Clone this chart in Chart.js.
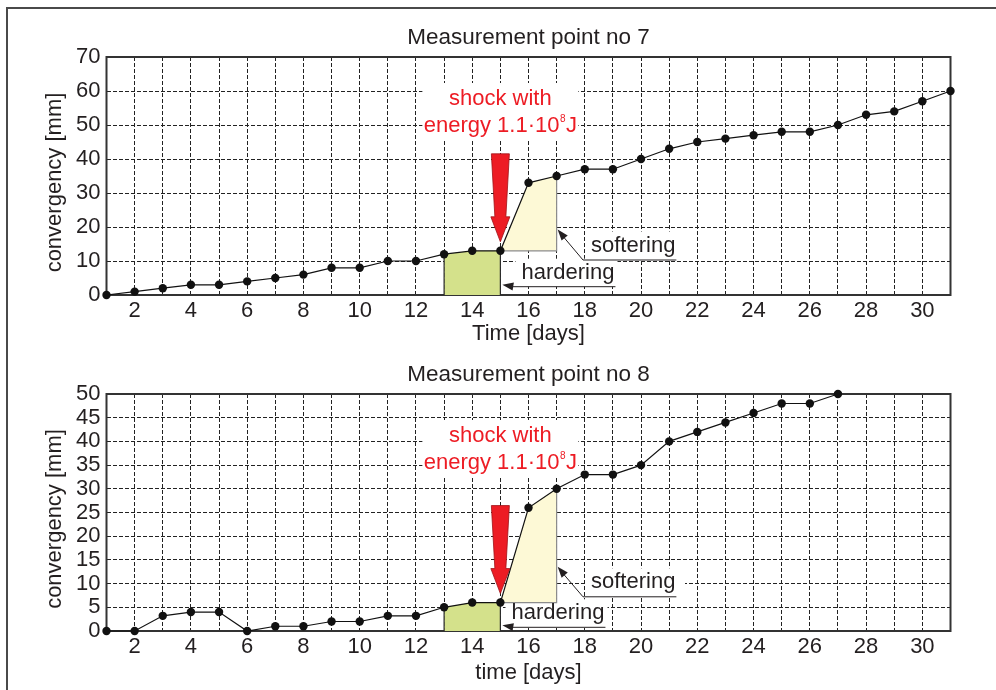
<!DOCTYPE html>
<html>
<head>
<meta charset="utf-8">
<script src="https://cdn.jsdelivr.net/npm/chart.js@4"></script>
<style>
  html, body { margin: 0; padding: 0; background: #fff; }
  #page { position: relative; width: 996px; height: 690px; overflow: hidden; }
  #frame { position: absolute; left: 6px; top: 7px; width: 1000px; height: 700px;
           border-left: 2px solid #4a4a4a; border-top: 2px solid #4a4a4a; }
  canvas { position: absolute; left: 0; }
  #chart7 { top: 0; }
  #chart8 { top: 345px; }
</style>
</head>
<body>
<div id="page">
  <div id="frame"></div>
  <canvas id="chart7" width="996" height="350"></canvas>
  <canvas id="chart8" width="996" height="345"></canvas>
</div>
<script>
// ── data ──
var days = [1, 2, 3, 4, 5, 6, 7, 8, 9, 10, 11, 12, 13, 14, 15, 16,
            17, 18, 19, 20, 21, 22, 23, 24, 25, 26, 27, 28, 29, 30, 31];
var point7 = [0, 1, 2, 3, 3, 4, 5, 6, 8, 8, 10, 10, 12, 13, 13, 33,
              35, 37, 37, 40, 43, 45, 46, 47, 48, 48, 50, 53, 54, 57, 60];
var point8 = [0, 0, 3.2, 4, 4, 0, 1, 1, 2, 2, 3.2, 3.2, 5, 6, 6, 26,
              30, 33, 33, 35, 40, 42, 44, 46, 48, 48, 50];
var xTickLabels = [2, 4, 6, 8, 10, 12, 14, 16, 18, 20, 22, 24, 26, 28, 30];
var yMax7 = 70, yStep7 = 10;
var yMax8 = 50, yStep8 = 5;

// shock event and the two marked zones
var shockDay = 15;
var hardStart = 13;
var softEnd = 17;

var FONT = "'Liberation Sans', Arial, Helvetica, sans-serif";
var INK = '#231f20';
var RED = '#ed1c24';
Chart.defaults.font.family = FONT;

// ── annotations: title, label boxes, zone outlines, shock arrow, labels ──
var annotPlugin = {
  id: 'annot',
  beforeDatasetsDraw: function (chart, args, o) {
    var ctx = chart.ctx, a = chart.chartArea;
    var cx = chart.scales.x.getPixelForValue(shockDay);
    ctx.save();
    ctx.fillStyle = '#fff';
    ctx.fillRect(cx - 78, a.top + 26, 156, 58);
    ctx.fillRect(o.softX - 6, a.top + o.softY - 14, 100, 28);
    ctx.fillRect(o.hardX - 6, a.top + o.hardY - 14, 102, 28);
    ctx.strokeStyle = '#333';
    ctx.lineWidth = 2;
    ctx.strokeRect(a.left, a.top, a.right - a.left, a.bottom - a.top);
    ctx.restore();
  },
  afterDatasetDraw: function (chart, args) {
    var ctx = chart.ctx, xs = chart.scales.x, ys = chart.scales.y;
    var data = chart.data.datasets[args.index].data;
    if (args.index === 0) return;
    var first = data[0], last = data[data.length - 1];
    ctx.save();
    ctx.lineWidth = 1.2;
    ctx.beginPath();
    if (args.index === 1) {
      ctx.strokeStyle = '#2b2b2b';
      ctx.moveTo(xs.getPixelForValue(first.x), ys.getPixelForValue(0));
      ctx.lineTo(xs.getPixelForValue(first.x), ys.getPixelForValue(first.y));
      ctx.moveTo(xs.getPixelForValue(last.x), ys.getPixelForValue(0));
      ctx.lineTo(xs.getPixelForValue(last.x), ys.getPixelForValue(last.y));
    } else {
      ctx.strokeStyle = '#8c8c8c';
      ctx.moveTo(xs.getPixelForValue(last.x), ys.getPixelForValue(last.y));
      ctx.lineTo(xs.getPixelForValue(last.x), ys.getPixelForValue(first.y));
      ctx.lineTo(xs.getPixelForValue(first.x), ys.getPixelForValue(first.y));
    }
    ctx.stroke();
    ctx.restore();
  },
  afterDatasetsDraw: function (chart, args, o) {
    var ctx = chart.ctx, a = chart.chartArea, xs = chart.scales.x, ys = chart.scales.y;
    var cx = xs.getPixelForValue(shockDay);
    var base = chart.data.datasets[2].data[0].y;
    var tipY = ys.getPixelForValue(base) - 9;
    var topY = tipY - 88;
    ctx.save();

    // chart title
    ctx.fillStyle = INK;
    ctx.textBaseline = 'middle';
    ctx.textAlign = 'center';
    ctx.font = '22.5px ' + FONT;
    ctx.fillText(o.title, (a.left + a.right) / 2, o.titleY);

    // red arrow
    ctx.beginPath();
    ctx.moveTo(cx - 9, topY);
    ctx.lineTo(cx + 9, topY);
    ctx.lineTo(cx + 5.5, tipY - 25);
    ctx.lineTo(cx + 9.5, tipY - 25);
    ctx.lineTo(cx, tipY);
    ctx.lineTo(cx - 9.5, tipY - 25);
    ctx.lineTo(cx - 5.5, tipY - 25);
    ctx.closePath();
    ctx.fillStyle = RED;
    ctx.fill();
    ctx.strokeStyle = '#9e1217';
    ctx.lineWidth = 0.8;
    ctx.stroke();

    // shock text
    ctx.fillStyle = RED;
    ctx.font = '22px ' + FONT;
    ctx.fillText('shock with', cx, a.top + 42);
    var t1 = 'energy 1.1\u00b710', t2 = '8', t3 = 'J';
    var w1 = ctx.measureText(t1).width, w3 = ctx.measureText(t3).width;
    ctx.font = '10px ' + FONT;
    var w2 = ctx.measureText(t2).width + 1;
    var sx = cx - (w1 + w2 + w3) / 2, ly = a.top + 69;
    ctx.textAlign = 'left';
    ctx.font = '22px ' + FONT;
    ctx.fillText(t1, sx, ly);
    ctx.fillText(t3, sx + w1 + w2, ly);
    ctx.font = '10px ' + FONT;
    ctx.fillText(t2, sx + w1 + 0.5, ly - 7);

    // softering label with leader
    var softEdge = xs.getPixelForValue(softEnd);
    ctx.font = '22px ' + FONT;
    ctx.fillStyle = INK;
    ctx.fillText('softering', o.softX, a.top + o.softY);
    var sw = ctx.measureText('softering').width;
    ctx.strokeStyle = INK;
    ctx.lineWidth = 1;
    var tipX = softEdge + 1, tipYs = a.top + o.softTip, kneeX = o.softX - 8, lineY = a.top + o.softY + 14.5;
    ctx.beginPath();
    ctx.moveTo(tipX + 3, tipYs + 4);
    ctx.lineTo(kneeX, lineY);
    ctx.lineTo(o.softX + sw + 1, lineY);
    ctx.stroke();
    drawHead(ctx, tipX, tipYs, kneeX, lineY);

    // hardering label with leader
    ctx.fillText('hardering', o.hardX, a.top + o.hardY);
    var hw = ctx.measureText('hardering').width;
    var hy = a.top + o.hardY + 14;
    ctx.beginPath();
    ctx.moveTo(o.hardX + hw + 1, hy);
    ctx.lineTo(cx + 12, hy);
    ctx.stroke();
    drawHead(ctx, cx + 2, hy - 2, cx + 14, hy);

    // y axis title
    ctx.translate(55, (a.top + a.bottom) / 2 + 6.5);
    ctx.rotate(-Math.PI / 2);
    ctx.textAlign = 'center';
    ctx.fillText('convergency [mm]', 0, 0);
    ctx.restore();
  }
};

function drawHead(ctx, x, y, fromX, fromY) {
  var ang = Math.atan2(y - fromY, x - fromX);
  var len = 11, half = 4;
  ctx.beginPath();
  ctx.moveTo(x, y);
  ctx.lineTo(x - len * Math.cos(ang) + half * Math.sin(ang), y - len * Math.sin(ang) - half * Math.cos(ang));
  ctx.lineTo(x - len * Math.cos(ang) - half * Math.sin(ang), y - len * Math.sin(ang) + half * Math.cos(ang));
  ctx.closePath();
  ctx.fillStyle = INK;
  ctx.fill();
}

function makeChart(id, values, cfg) {
  var pts = values.map(function (v, i) { return { x: days[i], y: v }; });
  var iShock = days.indexOf(shockDay);
  var hard = pts.slice(days.indexOf(hardStart), iShock + 1);
  var soft = pts.slice(iShock, days.indexOf(softEnd) + 1);
  var base = values[iShock];
  var gridStyle = { color: '#222', lineWidth: 1, drawTicks: false };
  var borderStyle = { display: false, dash: [4, 2] };

  return new Chart(document.getElementById(id).getContext('2d'), {
    type: 'line',
    data: {
      datasets: [
        {
          label: 'convergency',
          data: pts,
          borderColor: '#111',
          borderWidth: 1.2,
          pointRadius: 4.2,
          pointBackgroundColor: '#111',
          pointBorderWidth: 0,
          tension: 0,
          fill: false,
          clip: false,
          order: 0,
        },
        {
          label: 'hardering',
          data: hard,
          borderWidth: 0,
          borderColor: 'rgba(0,0,0,0)',
          pointRadius: 0,
          backgroundColor: '#d4e18b',
          fill: 'origin',
          order: 2,
        },
        {
          label: 'softering',
          data: soft,
          borderWidth: 0,
          borderColor: 'rgba(0,0,0,0)',
          pointRadius: 0,
          backgroundColor: '#fdf9d6',
          fill: { value: base },
          order: 1,
        },
      ],
    },
    options: {
      responsive: false,
      animation: false,
      devicePixelRatio: 1,
      layout: { padding: { left: 0, right: 45.5, top: cfg.plotTop, bottom: 0 } },
      plugins: {
        legend: { display: false },
        tooltip: { enabled: false },
        title: { display: false },
        annot: cfg.annot,
      },
      scales: {
        x: {
          type: 'linear',
          min: 1,
          max: 31,
          afterFit: function (s) { s.height = cfg.xAxisHeight; },
          ticks: {
            stepSize: 1,
            autoSkip: false,
            maxRotation: 0,
            padding: 3,
            color: INK,
            font: { size: 22 },
            callback: function (v) { return xTickLabels.indexOf(v) >= 0 ? String(v) : ''; },
          },
          grid: gridStyle,
          border: borderStyle,
          title: {
            display: true,
            text: cfg.xTitle,
            color: INK,
            font: { size: 22, lineHeight: 1.2 },
            padding: { top: 0, bottom: cfg.xTitlePad },
          },
        },
        y: {
          min: 0,
          max: cfg.yMax,
          afterFit: function (s) { s.width = 106.5; },
          ticks: { stepSize: cfg.yStep, autoSkip: false, padding: 6, color: INK, font: { size: 22 } },
          grid: gridStyle,
          border: borderStyle,
        },
      },
    },
    plugins: [annotPlugin],
  });
}

makeChart('chart7', point7, {
  plotTop: 57,
  xTitle: 'Time [days]',
  xTitlePad: 2.8,
  xAxisHeight: 55,
  yMax: yMax7,
  yStep: yStep7,
  annot: { title: 'Measurement point no 7', titleY: 38, softX: 591, softY: 188.5, softTip: 172.5, hardX: 521.5, hardY: 215.7 },
});

makeChart('chart8', point8, {
  plotTop: 49,
  xTitle: 'time [days]',
  xTitlePad: 4.3,
  xAxisHeight: 59,
  yMax: yMax8,
  yStep: yStep8,
  annot: { title: 'Measurement point no 8', titleY: 30, softX: 591, softY: 188.3, softTip: 172.7, hardX: 511.5, hardY: 219.3 },
});
</script>
</body>
</html>
